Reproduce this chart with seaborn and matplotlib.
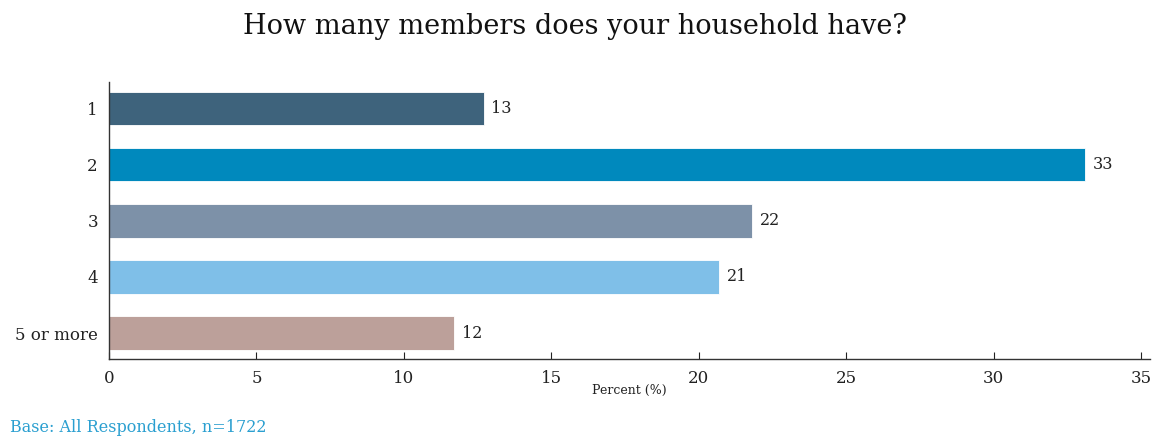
import matplotlib
matplotlib.use("Agg")
import matplotlib.pyplot as plt
import seaborn as sns
import pandas as pd

# Household size distribution
categories = ["1", "2", "3", "4", "5 or more"]
percent = [12.7, 33.1, 21.8, 20.7, 11.7]
bar_colors = ["#3e637c", "#0089bd", "#7d91a8", "#7fbfe8", "#bca09a"]
x_ticks = [0, 5, 10, 15, 20, 25, 30, 35]

sns.set_theme(style="white")
plt.rcParams["font.family"] = ["DejaVu Serif"]

df = pd.DataFrame({"members": categories, "percent": percent})

fig = plt.figure(figsize=(11.6, 4.38), dpi=100)
ax = fig.add_axes([109 / 1160, 1 - 359 / 438, (1150 - 109) / 1160, (359 - 82) / 438])

sns.barplot(data=df, x="percent", y="members", hue="members", order=categories,
            palette=dict(zip(categories, bar_colors)), orient="h", width=0.6,
            saturation=1, legend=False, ax=ax, edgecolor="white", linewidth=0.6)

for patch, val in zip(ax.patches, percent):
    ax.text(patch.get_width() + 0.27, patch.get_y() + patch.get_height() / 2,
            f"{val:.0f}", va="center", ha="left", fontsize=11.5, color="#222222")

ax.set_xlim(0, 35.3)
ax.set_ylim(4.46, -0.47)
ax.set_xticks(x_ticks)
ax.set_xticklabels([str(t) for t in x_ticks], fontsize=12)
ax.tick_params(axis="x", direction="in", length=5, width=0.8, colors="#222222",
               bottom=True, pad=8)
ax.tick_params(axis="y", length=0, labelsize=12, colors="#222222", pad=8)
ax.set_ylabel("")
ax.set_xlabel("Percent (%)", fontsize=9, color="#222222", labelpad=-2)

for side in ["top", "right"]:
    ax.spines[side].set_visible(False)
for side in ["left", "bottom"]:
    ax.spines[side].set_color("#333333")
    ax.spines[side].set_linewidth(1.0)

fig.text(575 / 1160, 1 - 26 / 438, "How many members does your household have?",
         ha="center", va="center", fontsize=19.5, color="#111111")
fig.text(10 / 1160, 1 - 428 / 438, "Base: All Respondents, n=1722",
         ha="left", va="center", fontsize=11.5, color="#2a9fd0")

fig.savefig("out.png", dpi=100)
